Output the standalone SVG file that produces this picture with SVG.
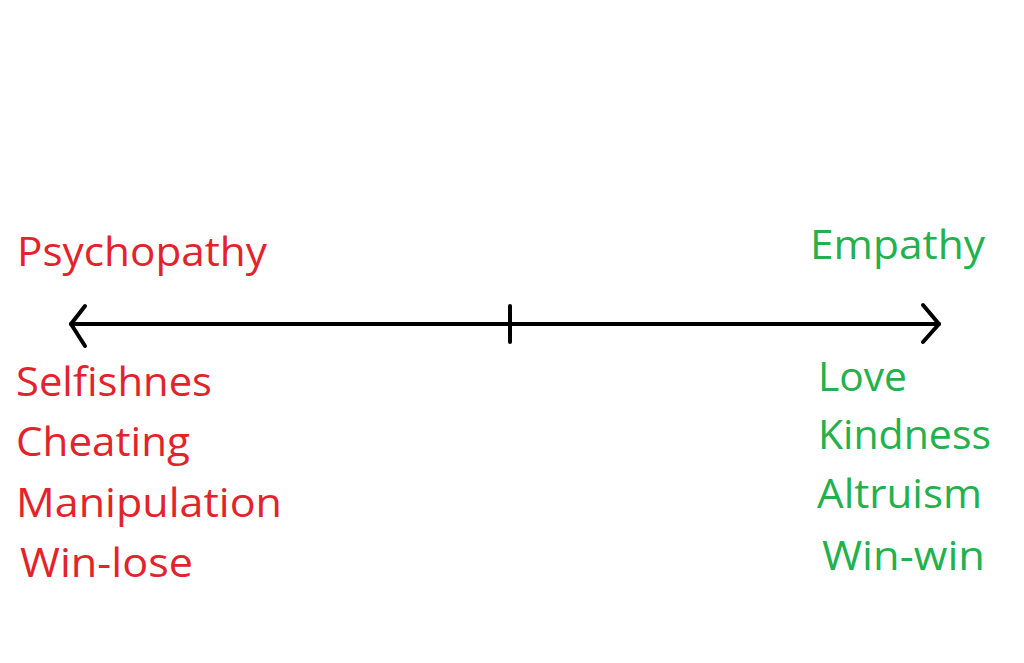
<svg xmlns="http://www.w3.org/2000/svg" width="1024" height="663" viewBox="0 0 1024 663">
<style>
  text { font-family: "Open Sans", "Noto Sans", "Liberation Sans", sans-serif; font-size: 41px; }
  .red { fill: #e3232b; }
  .green { fill: #22b14c; }
  .ln { stroke: #000; stroke-width: 4; fill: none; stroke-linecap: round; stroke-linejoin: round; }
</style>
<rect width="1024" height="663" fill="#fff"/>
<g id="connectors">
  <line class="ln" x1="71" y1="324" x2="939" y2="324"/>
  <polyline class="ln" points="85,306 71,324 85,346"/>
  <polyline class="ln" points="923,305 939,324 923,342"/>
  <line class="ln" x1="510" y1="306" x2="510" y2="342"/>
</g>
<g id="psychopathy"><text class="red" x="17" y="266" font-size="43" textLength="250" lengthAdjust="spacingAndGlyphs">Psychopathy</text></g>
<g id="empathy"><text class="green" x="810" y="259" textLength="175" lengthAdjust="spacingAndGlyphs">Empathy</text></g>
<g id="left-list">
  <text class="red" x="16" y="396" textLength="196" lengthAdjust="spacingAndGlyphs">Selfishnes</text>
  <text class="red" x="16" y="456" textLength="174" lengthAdjust="spacingAndGlyphs">Cheating</text>
  <text class="red" x="16" y="517" textLength="266" lengthAdjust="spacingAndGlyphs">Manipulation</text>
  <text class="red" x="20" y="577" textLength="173" lengthAdjust="spacingAndGlyphs">Win-lose</text>
</g>
<g id="right-list">
  <text class="green" x="818" y="391" textLength="89" lengthAdjust="spacingAndGlyphs">Love</text>
  <text class="green" x="818" y="449" textLength="173" lengthAdjust="spacingAndGlyphs">Kindness</text>
  <text class="green" x="817" y="508" textLength="165" lengthAdjust="spacingAndGlyphs">Altruism</text>
  <text class="green" x="822" y="570" textLength="163" lengthAdjust="spacingAndGlyphs">Win-win</text>
</g>
</svg>
